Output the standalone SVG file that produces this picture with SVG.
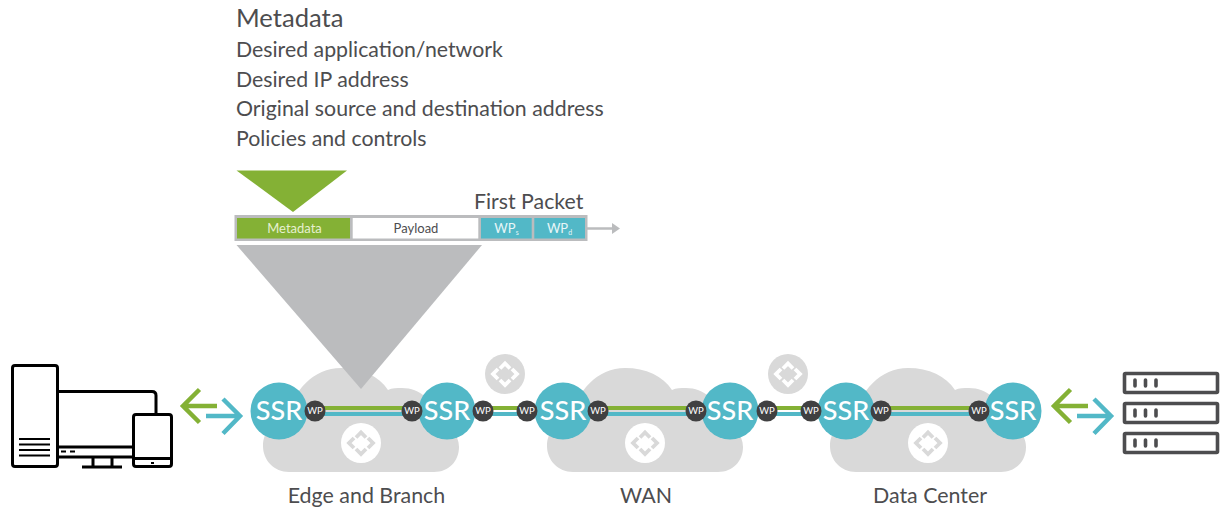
<svg xmlns="http://www.w3.org/2000/svg" width="1225" height="510" viewBox="0 0 1225 510">
<style>
text{font-family:Lato,"Open Sans","Liberation Sans",sans-serif}
.t{fill:#4d4d4f;font-size:21.3px}
.h{fill:#4d4d4f;font-size:25.6px}
.fp{fill:#4d4d4f;font-size:21.3px}
.lb{fill:#4d4d4f;font-size:21.4px;text-anchor:middle}
.ssr{fill:#fff;font-size:27px;font-weight:500;text-anchor:middle}
.wp{fill:#fff;font-size:9.500px;text-anchor:middle}
.pk{font-size:13px;text-anchor:middle}
.cloud{fill:#d9d9d9}
.teal{fill:#52b8c7}
.wpc{fill:#404041}
.g{stroke:#84b135;stroke-width:4;fill:none}
.b{stroke:#52b8c7;stroke-width:4;fill:none}
.ic{fill:none;stroke:#000;stroke-width:3;stroke-linejoin:round}
.sv{fill:#fff;stroke:#4d4d4f;stroke-width:3.600;stroke-linejoin:round}
.dot{stroke:#4d4d4f;stroke-width:3.600;stroke-linecap:round}
.chev{fill:none;stroke-width:3.800}
</style>
<defs>
<path id="cl" d="M289 472C274 472 263 460 263 446C263 431 274 420 289 420C291 391 314 368 341 368C362 368 379 376 388 390C392 388 397 388 402 388C420 388 434 400 437 421C450 425 459 435 459 447C459 461 449 472 434 472Z"/>
<path id="logo" class="chev" d="M-5-5.500L0-10.500L5-5.500M-7-5L-12 0L-7 5M7-5L12 0L7 5M-5 6L0 11L5 6"/>
<g id="ssr"><circle r="28.500" class="teal"/><text y="9" class="ssr">SSR</text></g>
<g id="wpn"><circle r="10.500" class="wpc"/><text y="3.400" class="wp">WP</text></g>
<g id="arrows"><path d="M217 406H184M199.500 389.500L183 406L199.500 422.500" fill="none" stroke="#84b135" stroke-width="4.500"/><path d="M206 416H240M223 399L240 416L223 433.500" fill="none" stroke="#52b8c7" stroke-width="4.500"/></g>
</defs>
<g id="clouds">
<g id="cloud-edge"><use href="#cl" class="cloud"/></g>
<g id="cloud-wan"><use href="#cl" x="284" class="cloud"/></g>
<g id="cloud-dc"><use href="#cl" x="567" class="cloud"/></g>
</g>
<g id="logos">
<g id="logo-1" transform="translate(361 443)"><circle r="20" fill="#fff"/><use href="#logo" stroke="#d9d9d9"/></g>
<g id="logo-2" transform="translate(645 443)"><circle r="20" fill="#fff"/><use href="#logo" stroke="#d9d9d9"/></g>
<g id="logo-3" transform="translate(928 443)"><circle r="20" fill="#fff"/><use href="#logo" stroke="#d9d9d9"/></g>
<g id="logo-4" transform="translate(505 374)"><circle r="20" fill="#d9d9d9"/><use href="#logo" stroke="#fff"/></g>
<g id="logo-5" transform="translate(788 374)"><circle r="20" fill="#d9d9d9"/><use href="#logo" stroke="#fff"/></g>
</g>
<g id="funnel"><path d="M236.500 245H482L361 389Z" fill="#bbbcbe"/></g>
<g id="connectors">
<path class="g" d="M314 408H413M483 408H527M597 408H697M767 408H811M881 408H980"/>
<path class="b" d="M314 414H413M483 414H527M597 414H697M767 414H811M881 414H980"/>
<use href="#arrows"/>
<use href="#arrows" x="871"/>
<path d="M587 228.500H612" stroke="#bbbcbe" stroke-width="2.500"/><path d="M612 223L620 228.500L612 234Z" fill="#bbbcbe"/>
</g>
<g id="ssr-1"><use href="#ssr" x="279" y="411"/></g>
<g id="ssr-2"><use href="#ssr" x="447" y="411"/></g>
<g id="ssr-3"><use href="#ssr" x="563" y="411"/></g>
<g id="ssr-4"><use href="#ssr" x="730" y="411"/></g>
<g id="ssr-5"><use href="#ssr" x="846" y="411"/></g>
<g id="ssr-6"><use href="#ssr" x="1013" y="411"/></g>
<g id="wp-nodes">
<g id="wp-1"><use href="#wpn" x="315" y="411"/></g>
<g id="wp-2"><use href="#wpn" x="412" y="411"/></g>
<g id="wp-3"><use href="#wpn" x="483" y="411"/></g>
<g id="wp-4"><use href="#wpn" x="527" y="411"/></g>
<g id="wp-5"><use href="#wpn" x="598" y="411"/></g>
<g id="wp-6"><use href="#wpn" x="696" y="411"/></g>
<g id="wp-7"><use href="#wpn" x="767" y="411"/></g>
<g id="wp-8"><use href="#wpn" x="811" y="411"/></g>
<g id="wp-9"><use href="#wpn" x="881" y="411"/></g>
<g id="wp-10"><use href="#wpn" x="979" y="411"/></g>
</g>
<g id="labels">
<text x="366.500" y="503" class="lb">Edge and Branch</text>
<text x="646" y="503" class="lb">WAN</text>
<text x="930" y="503" class="lb">Data Center</text>
</g>
<g id="metadata-text">
<text x="236" y="26.500" class="h">Metadata</text>
<text x="236" y="57" class="t">Desired application/network</text>
<text x="236" y="86.500" class="t">Desired IP address</text>
<text x="236" y="116" class="t">Original source and destination address</text>
<text x="236" y="146" class="t">Policies and controls</text>
</g>
<g id="packet">
<path d="M236.500 170.500H347L293 212Z" fill="#84b135"/>
<rect x="234.500" y="215" width="353" height="26" fill="#bbbcbe"/>
<rect x="237" y="218" width="113" height="20.500" fill="#84b135"/>
<rect x="352.700" y="218" width="125.600" height="20.500" fill="#fff"/>
<rect x="481" y="218" width="50.700" height="20.500" class="teal"/>
<rect x="534.300" y="218" width="50.700" height="20.500" class="teal"/>
<text x="294.500" y="233" class="pk" fill="#e6f0d0">Metadata</text>
<text x="416" y="233" class="pk" fill="#4d4d4f">Payload</text>
<text x="506.500" y="233" class="pk" fill="#e8f6f8">WP<tspan font-size="7" dy="2">s</tspan></text>
<text x="559.500" y="233" class="pk" fill="#e8f6f8">WP<tspan font-size="7" dy="2">d</tspan></text>
<text x="474" y="209" class="fp">First Packet</text>
</g>
<g id="devices" class="ic">
<rect x="12.500" y="365.500" width="45" height="101" rx="2.500"/>
<path d="M58 391.500H152Q156 391.500 156 395.500V414M58 447H133M58 457H133"/>
<rect x="133.500" y="414.500" width="38" height="52" rx="2.500"/>
<path d="M133 458.500H172M93 457V467M112 457V467M82 467H122"/>
<path stroke-width="2.200" d="M19 439H50M19 444.500H50M19 450H50M19 455.500H50M61 451.500H66M70 451.500H75M151 463H154"/>
</g>
<g id="servers">
<rect class="sv" x="1124.500" y="373.500" width="93" height="19" rx="1"/>
<rect class="sv" x="1124.500" y="403.500" width="93" height="19" rx="1"/>
<rect class="sv" x="1124.500" y="433.500" width="93" height="19" rx="1"/>
<path class="dot" d="M1135 380V386M1145.500 380V386M1156 380V386M1135 410V416M1145.500 410V416M1156 410V416M1135 440V446M1145.500 440V446M1156 440V446"/>
</g>
</svg>
